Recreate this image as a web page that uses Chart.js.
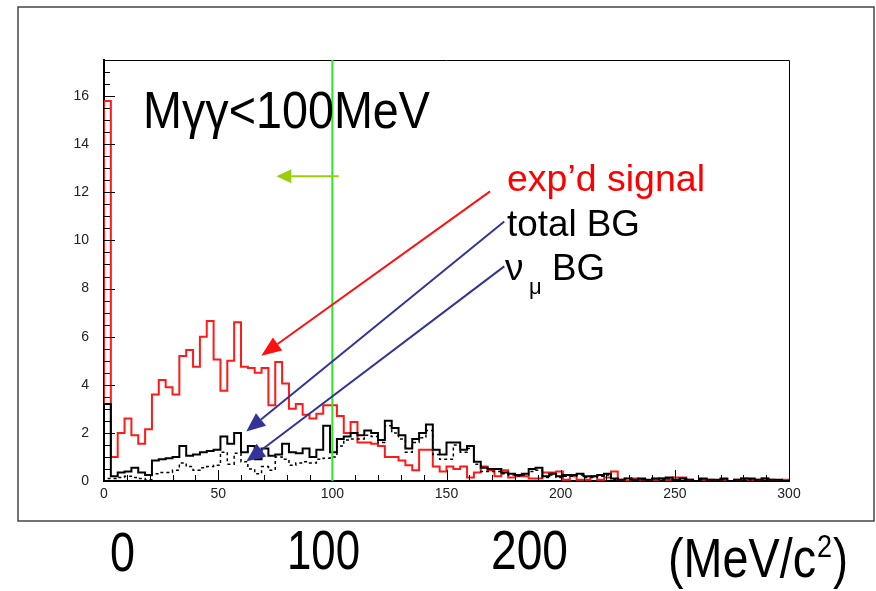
<!DOCTYPE html>
<html>
<head>
<meta charset="utf-8">
<script src="https://cdn.jsdelivr.net/npm/chart.js@4.4.1/dist/chart.umd.min.js"></script>
<style>
  html, body { margin: 0; padding: 0; background: #fff; }
  #wrap { position: relative; width: 876px; height: 591px; }
</style>
</head>
<body>
<div id="wrap"><canvas id="grafico"></canvas></div>
<script>
"use strict";

// Binning del histograma (MeV/c2)
const binStart = 0;
const binWidth = 3;

// Señal esperada (rojo)
const signal = [
  15.8, 1.0, 2.0, 2.6, 1.9, 1.55, 2.15, 3.6, 4.2, 3.9,
  3.6, 5.2, 5.45, 4.75, 6.0, 6.65, 5.05, 3.75, 5.0, 6.6,
  4.75, 4.7, 4.5, 4.7, 3.15, 4.95, 4.05, 3.0, 3.2, 2.75,
  2.6, 2.8, 3.15, 3.15, 2.7, 2.0, 2.45, 1.6, 1.6, 1.55,
  1.45, 1.0, 1.0, 0.85, 0.65, 0.45, 1.3, 1.3, 0.6, 0.4,
  0.6, 0.5, 0.6, 0.15, 0.35, 0.6, 0.45, 0.2, 0.45, 0.15,
  0.2, 0.2, 0.1, 0.1, 0.35, 0.35, 0.4, 0.05, 0.2, 0.05,
  0.05, 0.2, 0.05, 0.15, 0.4, 0.05, 0.0, 0.1, 0.05, 0.0,
  0.05, 0.1, 0.05, 0.15, 0.15, 0.05, 0.0, 0.05, 0.05, 0.0,
  0.05, 0.0, 0.05, 0.1, 0.05, 0.05, 0.1, 0.05, 0.0, 0.05
];

// BG total (negro)
const totalBG = [
  3.2, 0.2, 0.35, 0.4, 0.55, 0.35, 0.25, 0.85, 0.9, 0.95,
  1.0, 1.45, 1.05, 1.1, 1.2, 1.25, 1.3, 1.85, 1.55, 2.0,
  1.2, 1.45, 0.9, 1.35, 1.05, 1.1, 1.55, 1.2, 1.15, 1.35,
  1.0, 1.3, 2.3, 1.2, 1.75, 1.85, 2.0, 1.9, 2.1, 2.0,
  1.7, 2.5, 2.2, 1.9, 1.35, 1.75, 2.0, 2.35, 1.3, 1.1,
  1.6, 1.6, 1.3, 1.45, 0.8, 0.55, 0.5, 0.5, 0.35, 0.3,
  0.25, 0.3, 0.5, 0.55, 0.2, 0.3, 0.2, 0.25, 0.25, 0.3,
  0.2, 0.2, 0.25, 0.3, 0.1, 0.05, 0.1, 0.05, 0.1, 0.05,
  0.1, 0.1, 0.15, 0.05, 0.1, 0.05, 0.0, 0.1, 0.05, 0.05,
  0.1, 0.0, 0.05, 0.1, 0.1, 0.05, 0.1, 0.05, 0.05, 0.0
];

// BG de nu_mu (punteado)
const numuBG = [
  0.1, 0.1, 0.15, 0.2, 0.15, 0.1, 0.05, 0.3, 0.35, 0.35,
  0.45, 0.75, 0.6, 0.45, 0.55, 0.6, 0.65, 1.2, 0.7, 1.15,
  0.8, 0.5, 0.3, 0.6, 0.45, 1.0, 0.9, 0.65, 0.75, 0.8,
  0.75, 0.9, 0.95, 1.0, 1.45, 1.7, 1.75, 1.75, 1.9, 1.85,
  1.6, 2.3, 2.0, 1.75, 1.2, 1.6, 1.8, 2.1, 1.1, 0.9,
  0.9, 1.5, 1.2, 1.35, 0.7, 0.4, 0.4, 0.4, 0.3, 0.25,
  0.2, 0.25, 0.4, 0.45, 0.15, 0.25, 0.15, 0.2, 0.2, 0.25,
  0.15, 0.15, 0.2, 0.25, 0.05, 0.05, 0.1, 0.05, 0.05, 0.05,
  0.1, 0.05, 0.1, 0.05, 0.05, 0.05, 0.0, 0.05, 0.05, 0.0,
  0.05, 0.0, 0.05, 0.05, 0.05, 0.05, 0.05, 0.05, 0.0, 0.0
];

// Ejes
const xTicks = [0, 50, 100, 150, 200, 250, 300];
const yTicks = [0, 2, 4, 6, 8, 10, 12, 14, 16];
const xMax = 300;
const yMax = 17.5;
const cutValue = 100;

// Textos
const titleText = "M\u03b3\u03b3<100MeV";
const labelSignal = "exp\u2019d signal";
const labelTotal = "total BG";
const labelNumu = ["\u03bd", "\u03bc", "BG"];
const bigTicks = ["0", "100", "200"];
const unitText = ["(MeV/c", "2", ")"];

// Puntos del histograma (borde izquierdo de cada bin)
function histPoints(vals) {
  const pts = [{ x: binStart, y: 0 }];
  vals.forEach((v, i) => pts.push({ x: binStart + i * binWidth, y: v }));
  const end = binStart + vals.length * binWidth;
  pts.push({ x: end, y: vals[vals.length - 1] });
  pts.push({ x: end, y: 0 });
  return pts;
}

const FONT = '"Liberation Sans", Arial, Helvetica, sans-serif';

function texto(ctx, str, x, y, size, width, color) {
  ctx.save();
  ctx.font = size + "px " + FONT;
  const w = ctx.measureText(str).width;
  const sx = width ? width / w : 1;
  ctx.translate(x, y);
  ctx.scale(sx, 1);
  ctx.fillStyle = color || "#000";
  ctx.textBaseline = "alphabetic";
  ctx.textAlign = "left";
  ctx.fillText(str, 0, 0);
  ctx.restore();
  return w * sx;
}

function flecha(ctx, x0, y0, x1, y1, color, lw, head, halfW) {
  const ang = Math.atan2(y1 - y0, x1 - x0);
  const bx = x1 - head * Math.cos(ang);
  const by = y1 - head * Math.sin(ang);
  ctx.save();
  ctx.strokeStyle = color;
  ctx.fillStyle = color;
  ctx.lineWidth = lw;
  ctx.beginPath();
  ctx.moveTo(x0, y0);
  ctx.lineTo(bx, by);
  ctx.stroke();
  ctx.beginPath();
  ctx.moveTo(x1, y1);
  ctx.lineTo(bx + halfW * Math.sin(ang), by - halfW * Math.cos(ang));
  ctx.lineTo(bx - halfW * Math.sin(ang), by + halfW * Math.cos(ang));
  ctx.closePath();
  ctx.fill();
  ctx.restore();
}

const decor = {
  id: "decor",
  beforeDraw(chart) {
    const ctx = chart.ctx;
    ctx.save();
    ctx.fillStyle = "#fff";
    ctx.fillRect(0, 0, chart.width, chart.height);
    // marco exterior de la diapositiva
    ctx.strokeStyle = "#444";
    ctx.lineWidth = 1.5;
    ctx.strokeRect(18, 7, 856, 514);
    ctx.restore();
  },
  afterDatasetsDraw(chart) {
    const ctx = chart.ctx;
    const a = chart.chartArea;
    const xs = chart.scales.x, ys = chart.scales.y;
    ctx.save();
    // marco del histograma
    ctx.strokeStyle = "#000";
    ctx.lineWidth = 1;
    ctx.beginPath();
    ctx.moveTo(a.left, a.top + 0.5);
    ctx.lineTo(a.right + 0.5, a.top + 0.5);
    ctx.lineTo(a.right + 0.5, a.bottom);
    ctx.stroke();
    // ticks hacia dentro
    for (let v = 0; v <= yMax + 0.001; v += 0.5) {
      const py = Math.round(ys.getPixelForValue(v)) + 0.5;
      const len = yTicks.includes(v) ? 11 : 6;
      ctx.beginPath();
      ctx.moveTo(a.left, py);
      ctx.lineTo(a.left + len, py);
      ctx.stroke();
    }
    for (let v = 0; v <= xMax; v += 10) {
      const px = Math.round(xs.getPixelForValue(v)) + 0.5;
      const len = xTicks.includes(v) ? 11 : 6;
      ctx.beginPath();
      ctx.moveTo(px, a.bottom);
      ctx.lineTo(px, a.bottom - len);
      ctx.stroke();
    }
    // linea de corte
    const cx = xs.getPixelForValue(cutValue);
    ctx.strokeStyle = "#2ee62e";
    ctx.lineWidth = 2;
    ctx.beginPath();
    ctx.moveTo(cx, a.top);
    ctx.lineTo(cx, a.bottom);
    ctx.stroke();
    ctx.restore();

    // flechas
    const P = (x, y) => [xs.getPixelForValue(x), ys.getPixelForValue(y)];
    let s = P(102.8, 12.67), t = P(75.5, 12.67);
    flecha(ctx, s[0], s[1], t[0], t[1], "#9acd0a", 2, 15, 7);
    s = P(169.1, 12.04); t = P(68.9, 5.21);
    flecha(ctx, s[0], s[1], t[0], t[1], "#ff1010", 2, 20, 8);
    s = P(175.3, 10.79); t = P(62.3, 2.06);
    flecha(ctx, s[0], s[1], t[0], t[1], "#33339a", 2, 19, 8);
    s = P(175.3, 8.92); t = P(62.3, 0.81);
    flecha(ctx, s[0], s[1], t[0], t[1], "#33339a", 2, 19, 8);
  },
  afterDraw(chart) {
    const ctx = chart.ctx;
    texto(ctx, titleText, 143, 128, 52, 287, "#000");
    texto(ctx, labelSignal, 507, 191, 37, 198, "#ff0000");
    texto(ctx, labelTotal, 507, 236, 37, 133, "#000");
    texto(ctx, labelNumu[0], 505, 280, 37, 0, "#000");
    texto(ctx, labelNumu[1], 529, 294, 22, 0, "#000");
    texto(ctx, labelNumu[2], 552, 280, 37, 53, "#000");
    // rotulos grandes bajo el grafico
    texto(ctx, bigTicks[0], 110, 571, 55, 25, "#000");
    texto(ctx, bigTicks[1], 287, 569, 55, 73, "#000");
    texto(ctx, bigTicks[2], 491, 569, 55, 77, "#000");
    let x = 668;
    x += texto(ctx, unitText[0], x, 577, 55, 148, "#000");
    x += texto(ctx, unitText[1], x + 1, 557, 32, 15, "#000") + 2;
    texto(ctx, unitText[2], x, 577, 55, 15, "#000");
  }
};

new Chart(document.getElementById("grafico"), {
  type: "line",
  data: {
    datasets: [
      {
        label: "total BG",
        data: histPoints(totalBG),
        borderColor: "#000",
        borderWidth: 2,
        stepped: "before",
        pointRadius: 0,
        fill: false,
        order: 0
      },
      {
        label: "nu_mu BG",
        data: histPoints(numuBG),
        borderColor: "#000",
        borderWidth: 1.5,
        borderDash: [3, 3],
        stepped: "before",
        pointRadius: 0,
        fill: false,
        order: 1
      },
      {
        label: "exp'd signal",
        data: histPoints(signal),
        borderColor: "#ff1a1a",
        borderWidth: 2,
        stepped: "before",
        pointRadius: 0,
        fill: false,
        order: 2
      }
    ]
  },
  options: {
    responsive: true,
    maintainAspectRatio: false,
    animation: false,
    layout: { padding: { top: 60, right: 87, left: 0, bottom: 0 } },
    plugins: {
      legend: { display: false },
      title: { display: false },
      tooltip: { enabled: false }
    },
    scales: {
      x: {
        type: "linear",
        min: 0,
        max: xMax,
        afterFit: s => { s.height = 110; },
        afterBuildTicks: s => { s.ticks = xTicks.map(v => ({ value: v })); },
        grid: { display: false, drawTicks: false },
        border: { display: true, color: "#000", width: 2 },
        ticks: { padding: 5, color: "#222", font: { family: FONT, size: 14 }, maxRotation: 0 }
      },
      y: {
        type: "linear",
        min: 0,
        max: yMax,
        afterFit: s => { s.width = 104; },
        afterBuildTicks: s => { s.ticks = yTicks.map(v => ({ value: v })); },
        grid: { display: false, drawTicks: false },
        border: { display: true, color: "#000", width: 2 },
        ticks: { padding: 15, color: "#222", font: { family: FONT, size: 14 } }
      }
    }
  },
  plugins: [decor]
});
</script>
</body>
</html>
